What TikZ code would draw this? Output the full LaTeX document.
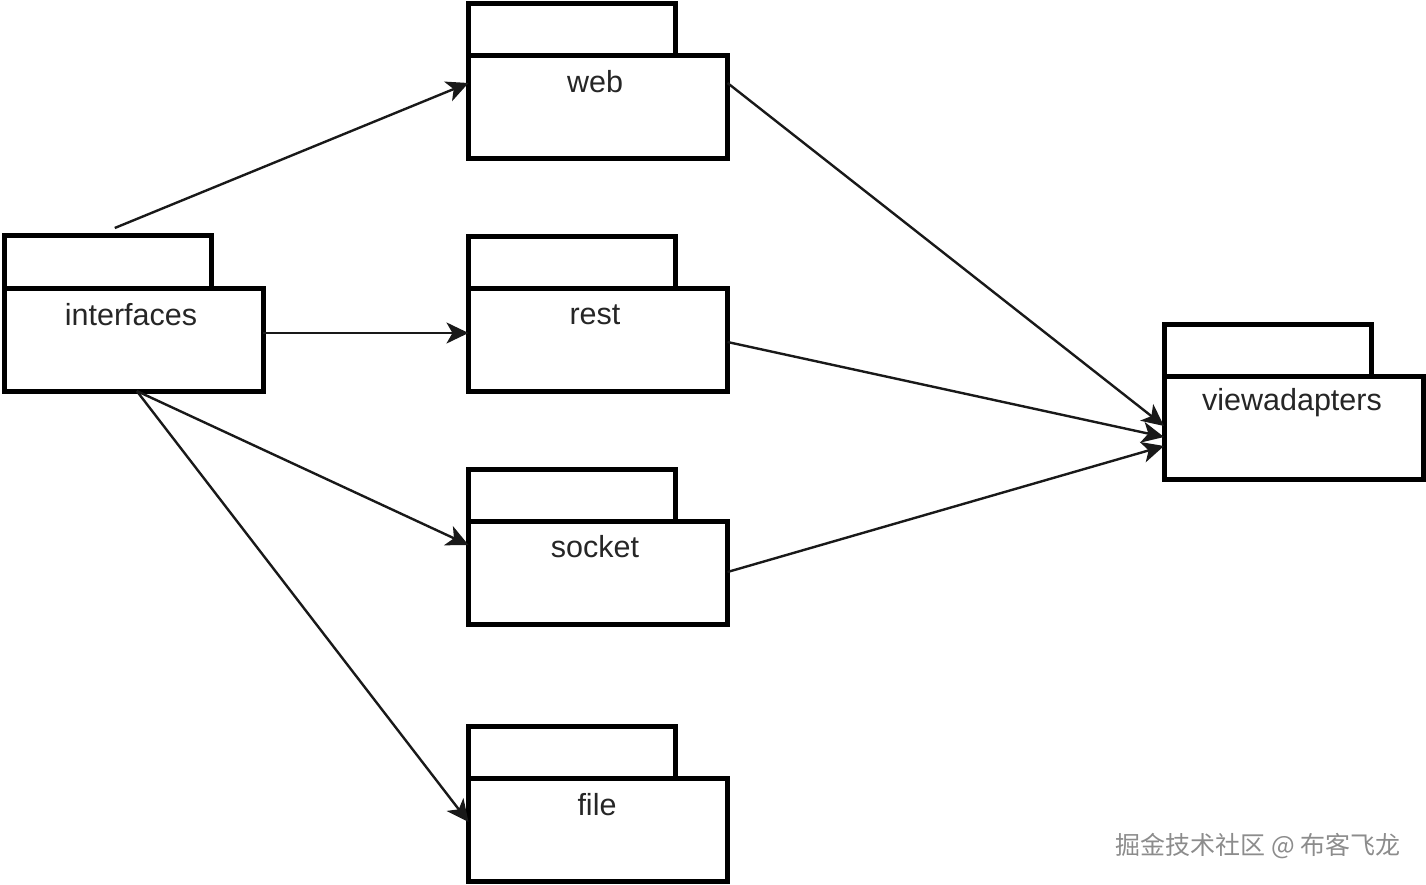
\documentclass[tikz,border=0pt]{standalone}
\usepackage{fontspec}
\setmainfont{Liberation Sans}
\newfontfamily\cjkfont{Noto Sans CJK SC}
\usetikzlibrary{arrows.meta}
\tikzset{
  pkgbody/.style={draw=black, line width=5pt, fill=white, minimum width=259pt, minimum height=103pt, inner sep=0pt, outer sep=0pt},
  pkgtab/.style={draw=black, line width=5pt, fill=white, minimum width=207pt, minimum height=52pt, inner sep=0pt, outer sep=0pt, anchor=south west},
  pkgtext/.style={text=black!85, font=\fontsize{30.5}{36}\selectfont, inner sep=0pt},
  conn/.style={draw=black!90, line width=2.4pt, -{Stealth[length=22pt,width=21pt,inset=6pt]}},
}
\begin{document}
\begin{tikzpicture}[x=1pt,y=-1pt]
\useasboundingbox (0,0) rectangle (1426,885);
% packages
\node[pkgbody] (interfaces) at (133.75,339.5) {};
\node[pkgtab] (interfacestab) at (interfaces.north west) {};
\node[pkgtext] (interfacestext) at (131,315) {interfaces};

\node[pkgbody] (web) at (598,107) {};
\node[pkgtab] (webtab) at (web.north west) {};
\node[pkgtext] (webtext) at (595,82) {web};

\node[pkgbody] (rest) at (598,340) {};
\node[pkgtab] (resttab) at (rest.north west) {};
\node[pkgtext] (resttext) at (595,315) {rest};

\node[pkgbody] (socket) at (598,573) {};
\node[pkgtab] (sockettab) at (socket.north west) {};
\node[pkgtext] (sockettext) at (595,547) {socket};

\node[pkgbody] (file) at (598,830) {};
\node[pkgtab] (filetab) at (file.north west) {};
\node[pkgtext] (filetext) at (597,805) {file};

\node[pkgbody] (viewadapters) at (1293.5,428) {};
\node[pkgtab] (viewadapterstab) at (viewadapters.north west) {};
\node[pkgtext] (viewadapterstext) at (1292,403) {viewadapters};

% connectors
\draw[conn] ([xshift=7pt,yshift=8pt]interfacestab.north) -- ([yshift=24pt]web.west);
\draw[conn] ([yshift=6.5pt]interfaces.east) -- ([yshift=7pt]rest.west);
\draw[conn] ([xshift=3pt]interfaces.south) -- ([yshift=28pt]socket.west);
\draw[conn] ([xshift=3pt]interfaces.south) -- ([yshift=8pt]file.west);
\draw[conn] ([yshift=24pt]web.east) -- ([yshift=2pt]viewadapters.west);
\draw[conn] ([yshift=-2pt]rest.east) -- ([yshift=-9pt]viewadapters.west);
\draw[conn] ([yshift=1pt]socket.east) -- ([yshift=-18pt]viewadapters.west);

% watermark
\node[text=black!45, font=\cjkfont\fontsize{25}{30}\selectfont, inner sep=0pt] (watermark) at (1258,846) {掘金技术社区 @ 布客飞龙};
\end{tikzpicture}
\end{document}
